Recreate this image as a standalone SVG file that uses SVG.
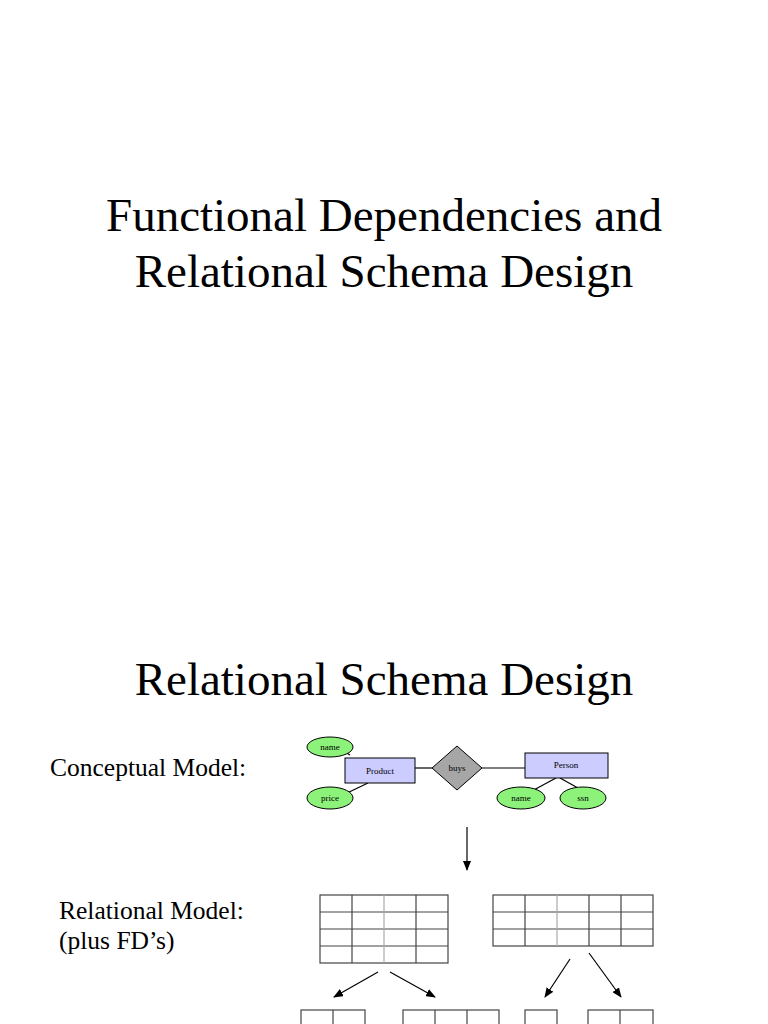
<svg xmlns="http://www.w3.org/2000/svg" width="768" height="1024" viewBox="0 0 768 1024">
<style>
.t{font-family:"Liberation Serif",serif;fill:#000}
.ln{stroke:#000;stroke-width:1.2;fill:none}
.g{stroke:#444;stroke-width:1.2;fill:none}
.el{fill:#8cf27a;stroke:#000;stroke-width:1}
.rc{fill:#ccccff;stroke:#000;stroke-width:1}
.s{font-family:"Liberation Serif",serif;font-size:9px;text-anchor:middle}
</style>
<defs><marker id="a" markerWidth="10" markerHeight="8" refX="9" refY="4" orient="auto" markerUnits="userSpaceOnUse"><path d="M0,0L10,4L0,8z" fill="#000"/></marker></defs>
<rect width="768" height="1024" fill="#fff"/>
<text class="t" x="384" y="231" font-size="47" text-anchor="middle">Functional Dependencies and</text>
<text class="t" x="384" y="287" font-size="47" text-anchor="middle">Relational Schema Design</text>
<text class="t" x="384" y="695" font-size="47" text-anchor="middle">Relational Schema Design</text>
<text class="t" x="50" y="776" font-size="25.5">Conceptual Model:</text>
<text class="t" x="59" y="919" font-size="25.5">Relational Model:</text>
<text class="t" x="59" y="949" font-size="25.5">(plus FD’s)</text>
<g id="connectors">
<line class="ln" x1="350" y1="755" x2="340" y2="749"/>
<line class="ln" x1="368" y1="783" x2="345" y2="794"/>
<line class="ln" x1="415" y1="768" x2="432" y2="768"/>
<line class="ln" x1="482" y1="768" x2="525" y2="768"/>
<line class="ln" x1="556" y1="778" x2="530" y2="792"/>
<line class="ln" x1="560" y1="778" x2="578" y2="788"/>
<line class="ln" x1="467" y1="827" x2="467" y2="870" marker-end="url(#a)"/>
<line class="ln" x1="378" y1="972" x2="334" y2="997" marker-end="url(#a)"/>
<line class="ln" x1="390" y1="972" x2="435" y2="997" marker-end="url(#a)"/>
<line class="ln" x1="570" y1="959" x2="545" y2="997" marker-end="url(#a)"/>
<line class="ln" x1="589" y1="953" x2="621" y2="997" marker-end="url(#a)"/>
</g>
<g id="name1"><ellipse class="el" cx="330" cy="747" rx="23" ry="10"/><text class="s" x="330" y="750">name</text></g>
<g id="price"><ellipse class="el" cx="330" cy="798" rx="23" ry="11"/><text class="s" x="330" y="801">price</text></g>
<g id="product"><rect class="rc" x="345" y="758" width="70" height="25"/><text class="s" x="380" y="774">Product</text></g>
<g id="buys"><path d="M457,746L482,768L457,790L432,768z" fill="#a6a6a6" stroke="#000"/><text class="s" x="457" y="771">buys</text></g>
<g id="person"><rect class="rc" x="525" y="753" width="83" height="25"/><text class="s" x="566" y="768">Person</text></g>
<g id="name2"><ellipse class="el" cx="521" cy="798" rx="24" ry="11"/><text class="s" x="521" y="801">name</text></g>
<g id="ssn"><ellipse class="el" cx="583" cy="798" rx="23" ry="11"/><text class="s" x="583" y="801">ssn</text></g>
<g id="table1" class="g">
<rect x="320" y="895" width="128" height="68"/>
<path d="M320,912H448M320,929H448M320,946H448M352,895V963M416,895V963"/>
<path d="M384,895V963" stroke="#aaa"/>
</g>
<g id="table2" class="g">
<rect x="493" y="895" width="160" height="51"/>
<path d="M493,912H653M493,929H653M525,895V946M589,895V946M621,895V946"/>
<path d="M557,895V946" stroke="#aaa"/>
</g>
<g id="t3" class="g"><rect x="301" y="1010" width="64" height="30"/><path d="M333,1010V1040"/></g>
<g id="t4" class="g"><rect x="403" y="1010" width="96" height="30"/><path d="M435,1010V1040M467,1010V1040"/></g>
<g id="t5" class="g"><rect x="525" y="1010" width="32" height="30"/></g>
<g id="t6" class="g"><rect x="588" y="1010" width="65" height="30"/><path d="M620,1010V1040"/></g>
</svg>
